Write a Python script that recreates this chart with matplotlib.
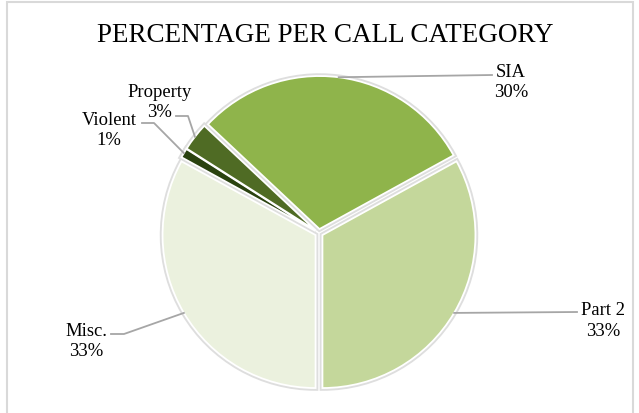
import matplotlib.pyplot as plt
import numpy as np
from matplotlib.patches import Rectangle

# slice data (clockwise from SIA)
categories = ['SIA', 'Part 2', 'Misc.', 'Violent', 'Property']
values = [30, 33, 33, 1, 3]
colors = ['#8fb44b', '#c4d79b', '#ebf1de', '#2a4210', '#4f6b24']

# label centres and leader line points (pixel coords, y up)
label_xy = [(511, 331.5), (603, 93), (86, 72.5), (109, 283.5), (160, 311.5)]
elbow_xy = [(492, 338), (577, 101), (124, 79), (154, 290), (188, 297)]
end_xy = [(492, 338), (577, 101), (111, 79), (142, 290), (176, 297)]

plt.rcParams['font.family'] = ['Liberation Serif', 'DejaVu Serif']

fig = plt.figure(figsize=(6.39, 4.14), dpi=100)
ax = fig.add_axes([0, 0, 1, 1])

# outer border
fig.patches.append(Rectangle((7 / 639, -0.02), 626 / 639, 1.0 - 3 / 414 + 0.02,
                             transform=fig.transFigure, fill=False,
                             edgecolor='#d9d9d9', linewidth=1.5))

center = (319, 180)
radius = 153
explode = [4, 4, 4, 4, 4]
start = 136.8

# grey shadow under the white slice borders
ax.pie(values, colors=colors, startangle=start, counterclock=False, center=center,
       radius=radius, explode=explode, frame=True,
       wedgeprops=dict(edgecolor='#dedede', linewidth=4))
wedges, _ = ax.pie(values, colors=colors, startangle=start, counterclock=False, center=center,
                   radius=radius, explode=explode, frame=True,
                   wedgeprops=dict(edgecolor='white', linewidth=1.3))
ax.set_xlim(0, 639)
ax.set_ylim(0, 414)
ax.set_aspect('equal')
ax.axis('off')

for w, cat, v, (lx, ly), (bx, by), (ex, ey) in zip(wedges, categories, values,
                                                    label_xy, elbow_xy, end_xy):
    mid = np.deg2rad((w.theta1 + w.theta2) / 2)
    cx, cy = w.center
    sx, sy = cx + w.r * np.cos(mid), cy + w.r * np.sin(mid)
    ax.plot([sx, bx, ex], [sy, by, ey], color='#a6a6a6', linewidth=1.3)
    ax.text(lx, ly, f'{cat}\n{v}%', ha='center', va='center', fontsize=13.4, linespacing=1.25)

ax.text(325, 378, 'PERCENTAGE PER CALL CATEGORY', ha='center', va='center', fontsize=19.5)

fig.savefig('out.png', dpi=100)
